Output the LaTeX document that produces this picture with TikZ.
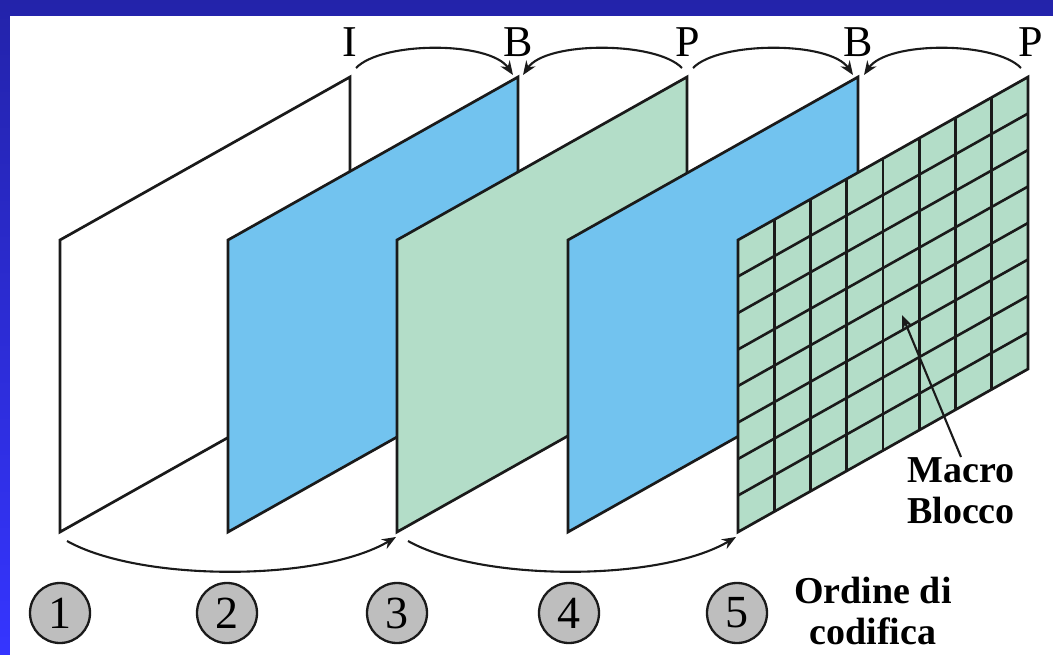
\documentclass[tikz,border=0pt]{standalone}
\usepackage{fontspec}
\setmainfont{Liberation Serif}
\usetikzlibrary{arrows.meta}
\definecolor{bluefr}{HTML}{72C3EF}
\definecolor{greenfr}{HTML}{B3DDC8}
\definecolor{circfill}{HTML}{BEBEBE}
\definecolor{bordtop}{HTML}{2323AA}
\definecolor{bordbot}{HTML}{3535FF}
\definecolor{ink}{HTML}{1A1A1A}
\begin{document}
\begin{tikzpicture}[x=1pt,y=-1pt,
  frame/.style={draw=ink,line width=2.7pt,line join=miter},
  gridl/.style={draw=ink,line width=2.6pt},
  conn/.style={draw=ink,line width=2.1pt,-{Stealth[length=14pt,width=11pt]}},
  num/.style={circle,draw=ink,line width=2.3pt,fill=circfill,minimum size=60pt,inner sep=0pt,font=\fontsize{46}{46}\selectfont},
  ftype/.style={anchor=base,inner sep=0pt,font=\fontsize{44}{44}\selectfont},
  lbl/.style={inner sep=0pt,align=center,font=\bfseries\fontsize{38}{41}\selectfont}]
\useasboundingbox (0,0) rectangle (1053,655);
\shade[top color=bordtop,bottom color=bordbot] (0,0) rectangle (1053,655);
\fill[white] (10,16) rectangle (1053,655);
% frames
\foreach \x/\c in {60/white,228/bluefr,397/greenfr,568/bluefr}
  \filldraw[frame,fill=\c] (\x,240) -- (\x+290,77) -- (\x+290,369) -- (\x,532) -- cycle;
\fill[greenfr] (738,240) -- (1028,77) -- (1028,369) -- (738,532) -- cycle;
\foreach \i in {1,...,7} {
  \draw[gridl] (738+\i*36.25,240-\i*20.375) -- ++(0,292);
  \draw[gridl] (738,240+\i*36.5) -- ++(290,-163);
}
\draw[frame] (738,240) -- (1028,77) -- (1028,369) -- (738,532) -- cycle;
% frame type letters
\node[ftype] (tI) at (350,57) {I};
\node[ftype] (tB1) at (518,57) {B};
\node[ftype] (tP1) at (688,57) {P};
\node[ftype] (tB2) at (858,57) {B};
\node[ftype] (tP2) at (1031,57) {P};
% arc end points
\coordinate (sI) at (356,68);
\coordinate (eB1l) at (513,75);
\coordinate (eB1r) at (523,75);
\coordinate (sP1l) at (682,68);
\coordinate (sP1r) at (693,68);
\coordinate (eB2l) at (853,75);
\coordinate (eB2r) at (864,75);
\coordinate (sP2) at (1021,68);
\draw[conn] (sI) .. controls (382,41) and (490,41) .. (eB1l);
\draw[conn] (sP1l) .. controls (656,41) and (546,41) .. (eB1r);
\draw[conn] (sP1r) .. controls (719,41) and (830,41) .. (eB2l);
\draw[conn] (sP2) .. controls (995,41) and (887,41) .. (eB2r);
% bottom arcs
\coordinate (b1s) at (67,541);
\coordinate (b1e) at (396,537);
\coordinate (b2s) at (408,541);
\coordinate (b2e) at (736,537);
\draw[conn] (b1s) .. controls (140,582) and (320,582) .. (b1e);
\draw[conn] (b2s) .. controls (481,582) and (660,582) .. (b2e);
% order circles
\node[num] (n1) at (60,613) {1};
\node[num] (n2) at (227,613) {2};
\node[num] (n3) at (397,613) {3};
\node[num] (n4) at (569,613) {4};
\node[num] (n5) at (737,613) {5};
\node[lbl,anchor=north] (ord) at (873,577) {Ordine di\\codifica};
% macro block
\node[lbl,anchor=north] (mac) at (961,457) {Macro\\Blocco};
\coordinate (mbt) at (902,315);
\draw[conn] (mac.north) -- (mbt);
\end{tikzpicture}
\end{document}
